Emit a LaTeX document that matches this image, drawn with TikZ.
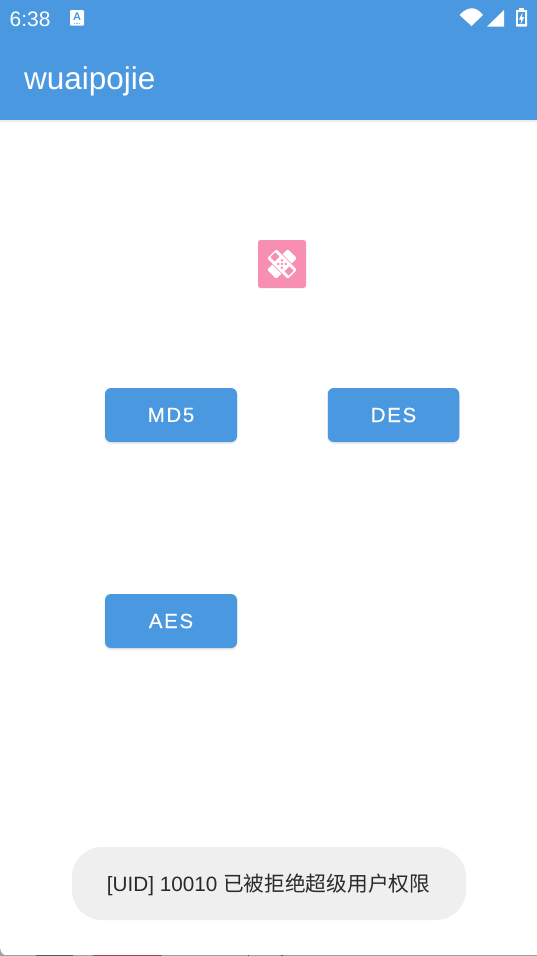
\documentclass[tikz,border=0pt]{standalone}
\usepackage{fontspec}
\setmainfont{Liberation Sans}
\newfontfamily\cjk{Noto Sans CJK SC}
\definecolor{appblue}{HTML}{4A98E0}
\definecolor{pinkicon}{HTML}{F78FB3}
\definecolor{toastgray}{HTML}{EFEFEF}
\definecolor{toasttext}{HTML}{2A2A2A}
\definecolor{edgegray}{HTML}{A0A0A0}
\tikzset{
  appbtn/.style={fill=appblue,rounded corners=6,minimum height=54,inner sep=0,text=white,font=\fontsize{20.5}{24}\selectfont\addfontfeature{LetterSpace=8,FakeBold=0.25}},
  softa/.style={fill=black!4,rounded corners=7},
  softb/.style={fill=black!9,rounded corners=6},
}
\begin{document}
\begin{tikzpicture}[x=1pt,y=-1pt]
\useasboundingbox (0,0) rectangle (537,956);
\fill[white] (0,0) rectangle (537,956);
% bottom edge of the screen
\fill[edgegray] (0,955) rectangle (537,956);
\fill[edgegray] (0,948) -- (0,956) -- (8,956) .. controls (3,955.5) and (0.5,953) .. (0,948) -- cycle;
\fill[black!65] (36,955) rectangle (73,956);
\fill[red!40!black!70] (93,955) rectangle (162,956);
\fill[black!70] (247.5,955) rectangle (249,956);
\fill[black!70] (281,955) rectangle (283,956);
% app bar
\fill[black!7] (0,119) rectangle (537,121.5);
\fill[appblue] (0,0) rectangle (537,119.5);
\node[anchor=west,text=white,inner sep=0,font=\fontsize{21}{24}\selectfont] (clock) at (9.5,19) {6:38};
\node[anchor=west,text=white,inner sep=0,font=\fontsize{31.5}{34}\selectfont] (title) at (24,81.5) {wuaipojie};
% small A icon
\fill[white,rounded corners=1] (70,10) rectangle (84,25.7);
\node[text=appblue,inner sep=0,font=\fontsize{11}{11}\selectfont\bfseries] (aicon) at (77,16.5) {A};
\foreach \dx in {73.5,76,78.5}{\fill[appblue!70] (\dx,23) rectangle (\dx+1.6,24.3);}
% wifi
\fill[white] (459.5,15) .. controls (468,6) and (476,6) .. (483,15) -- (471.5,26) -- cycle;
% signal
\fill[white] (487,26.5) -- (504,10) -- (504,26.5) -- cycle;
% battery
\fill[white,rounded corners=0.6] (516,10) rectangle (527,26.5);
\fill[white] (519,7.5) rectangle (524,10);
\fill[appblue] (518,12) rectangle (525,24);
\fill[white] (522.5,12.5) -- (519,19.5) -- (521.3,19.5) -- (520.5,24.5) -- (524.3,17) -- (522,17) -- cycle;
% pink icon
\fill[pinkicon,rounded corners=2.5] (258,240) rectangle (306,288);
\begin{scope}[shift={(282,264)}]
  \begin{scope}[rotate=45]
    \fill[white,rounded corners=1.5] (-14.5,-6.5) rectangle (14.5,6.5);
  \end{scope}
  \begin{scope}[rotate=-45]
    \fill[pinkicon] (-15,-7.2) rectangle (15,7.2);
    \fill[white,rounded corners=1.5] (-14.5,-6.5) rectangle (14.5,6.5);
    \fill[pinkicon] (-13,-3.4) rectangle (-7,3.4);
    \fill[pinkicon] (7,-3.4) rectangle (13,3.4);
    \foreach \dx/\dy in {-2.7/-2.7,2.7/-2.7,-2.7/2.7,2.7/2.7,0/0}{\fill[pinkicon] (\dx-1,\dy-1) rectangle (\dx+1,\dy+1);}
  \end{scope}
\end{scope}
% button shadows
\fill[softa] (104,388) rectangle (238,444.5);
\fill[softb] (105,390) rectangle (237,443);
\fill[softa] (327,388) rectangle (460,444.5);
\fill[softb] (328,390) rectangle (459,443);
\fill[softa] (104,594) rectangle (238,650.5);
\fill[softb] (105,596) rectangle (237,649);
% buttons
\node[appbtn,minimum width=132] (md5) at (171,415) {\raisebox{-0.8pt}{MD5}};
\node[appbtn,minimum width=131.5] (des) at (393.5,415) {\raisebox{-0.8pt}{DES}};
\node[appbtn,minimum width=132] (aes) at (171,621) {\raisebox{-0.8pt}{AES}};
% toast
\fill[toastgray,rounded corners=30] (72,847) rectangle (466,920);
\node[text=toasttext,inner sep=0,font=\fontsize{20.7}{24}\selectfont] (toast) at (268.5,884.5) {[UID] 10010 {\cjk 已被拒绝超级用户权限}};
\end{tikzpicture}
\end{document}
